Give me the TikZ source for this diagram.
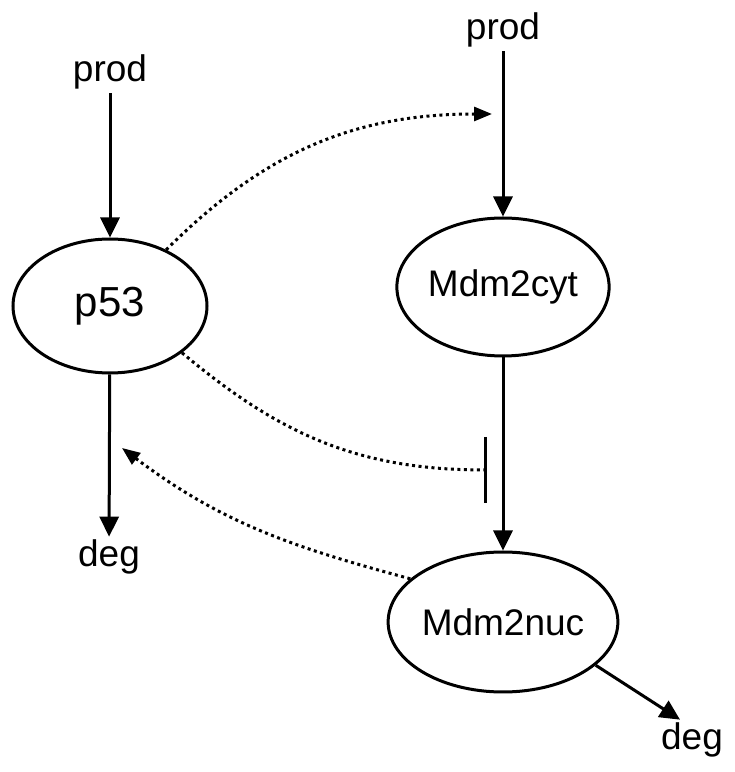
\documentclass[tikz,border=0pt]{standalone}
\usepackage{fontspec}
\setmainfont{Liberation Sans}
\usetikzlibrary{shapes.geometric,arrows.meta}
\tikzset{
  species/.style={ellipse,draw,line width=3pt,inner sep=0pt},
  flow/.style={line width=3pt,-{Triangle[length=20pt,width=19pt]}},
  infl/.style={line width=3pt,dash pattern=on 3pt off 3.5pt},
  acts/.style={infl,-{Triangle[length=18pt,width=14pt]}},
  blocks/.style={infl,-{Bar[width=66pt,line width=3pt]}}
}

\begin{document}
\begin{tikzpicture}[x=1pt,y=1pt,font=\fontsize{37}{44}\selectfont]
\useasboundingbox (0,0) rectangle (735,772);
\node[species,minimum width=194pt,minimum height=134pt,font=\fontsize{42}{48}\selectfont] (p53) at (110,466) {p53};
\node[species,minimum width=200pt,minimum height=138pt] (mcyt) at (503,485) {Mdm2cyt};
\node[species,minimum width=196pt,minimum height=140pt] (mnuc) at (503,150) {Mdm2nuc};
\node[anchor=base] (prodl) at (110,690) {prod};
\node[anchor=base] (prodr) at (503,732) {prod};
\node[anchor=base] (degl) at (109,205) {deg};
\node[anchor=base] (degr) at (692,22) {deg};
\coordinate (act) at (492,658);
\coordinate (inh) at (487,302);
\coordinate (back) at (122,324);
\draw[flow] (prodl) -- (p53);
\draw[flow] (p53) -- (degl);
\draw[flow] (prodr) -- (mcyt);
\draw[flow] (mcyt) -- (mnuc);
\draw[flow] (mnuc.-25) -- (degr.120);
\draw[acts] (p53.45) to[out=45,in=180] (act);
\draw[blocks] (p53.-33) to[out=-40,in=180] (inh);
\draw[acts] (mnuc.155) to[out=165,in=-37] (back);
\end{tikzpicture}
\end{document}
